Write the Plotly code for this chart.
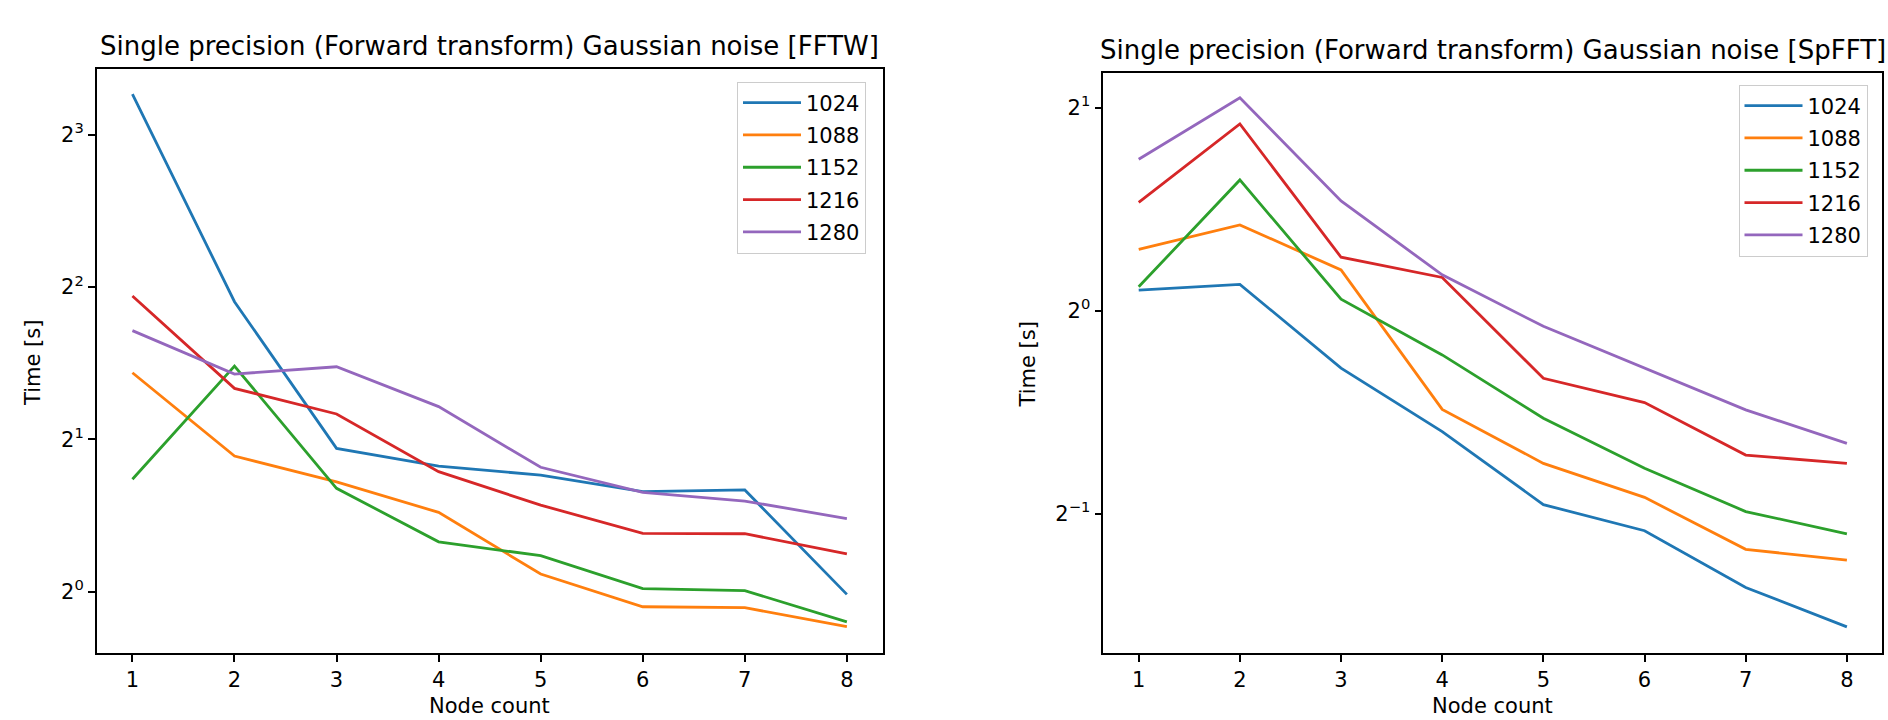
import plotly.graph_objects as go

node_counts = [1, 2, 3, 4, 5, 6, 7, 8]
sizes = ["1024", "1088", "1152", "1216", "1280"]
colors = ["#1f77b4", "#ff7f0e", "#2ca02c", "#d62728", "#9467bd"]

# FFTW times [s]
fftw_1024 = [9.63, 3.742, 1.920, 1.771, 1.700, 1.577, 1.589, 0.988]
fftw_1088 = [2.709, 1.854, 1.649, 1.435, 1.084, 0.934, 0.930, 0.853]
fftw_1152 = [1.668, 2.793, 1.601, 1.255, 1.178, 1.014, 1.005, 0.872]
fftw_1216 = [3.841, 2.523, 2.245, 1.727, 1.483, 1.304, 1.302, 1.188]
fftw_1280 = [3.281, 2.693, 2.784, 2.322, 1.762, 1.572, 1.511, 1.395]

# SpFFT times [s]
spfft_1024 = [1.073, 1.094, 0.822, 0.662, 0.516, 0.472, 0.389, 0.340]
spfft_1088 = [1.233, 1.340, 1.149, 0.714, 0.594, 0.529, 0.443, 0.427]
spfft_1152 = [1.085, 1.562, 1.040, 0.860, 0.693, 0.584, 0.504, 0.467]
spfft_1216 = [1.447, 1.891, 1.200, 1.120, 0.794, 0.731, 0.611, 0.594]
spfft_1280 = [1.676, 2.068, 1.454, 1.130, 0.948, 0.821, 0.713, 0.636]

x_ticks = [1, 2, 3, 4, 5, 6, 7, 8]
left_yticks = [1, 2, 4, 8]
left_yticktext = ["2<sup>0</sup>", "2<sup>1</sup>", "2<sup>2</sup>", "2<sup>3</sup>"]
right_yticks = [0.5, 1, 2]
right_yticktext = ["2<sup>\u22121</sup>", "2<sup>0</sup>", "2<sup>1</sup>"]

title_left = "Single precision (Forward transform) Gaussian noise [FFTW]"
title_right = "Single precision (Forward transform) Gaussian noise [SpFFT]"

FONT = "DejaVu Sans"
W, H = 1888, 720

fig = go.Figure()
fftw = [fftw_1024, fftw_1088, fftw_1152, fftw_1216, fftw_1280]
spfft = [spfft_1024, spfft_1088, spfft_1152, spfft_1216, spfft_1280]
for name, col, ys in zip(sizes, colors, fftw):
    fig.add_trace(go.Scatter(x=node_counts, y=ys, mode="lines", name=name,
                             line=dict(color=col, width=2.8), legendgroup="a" + name,
                             xaxis="x", yaxis="y", legend="legend"))
for name, col, ys in zip(sizes, colors, spfft):
    fig.add_trace(go.Scatter(x=node_counts, y=ys, mode="lines", name=name,
                             line=dict(color=col, width=2.8), legendgroup="b" + name,
                             xaxis="x2", yaxis="y2", legend="legend2"))

axis_common = dict(showline=True, mirror=True, linecolor="black", linewidth=1.5,
                   ticks="outside", ticklen=7, tickwidth=1.5, tickcolor="black",
                   showgrid=False, zeroline=False,
                   tickfont=dict(family=FONT, size=21, color="black"))

legend_common = dict(xanchor="left", yanchor="top", tracegroupgap=2, itemwidth=58,
                     bgcolor="rgba(255,255,255,0.8)", bordercolor="#cccccc", borderwidth=1,
                     font=dict(family=FONT, size=21, color="black"))

fig.update_layout(
    width=W, height=H,
    margin=dict(l=0, r=0, t=0, b=0),
    paper_bgcolor="white", plot_bgcolor="white",
    font=dict(family=FONT, size=21, color="black"),
    xaxis=dict(domain=[96.7 / W, 882.6 / W], range=[0.65, 8.35], tickvals=x_ticks,
               anchor="y", **axis_common),
    yaxis=dict(domain=[1 - 653.3 / H, 1 - 69.3 / H], type="log", range=[-0.1217, 1.0325],
               tickvals=left_yticks, ticktext=left_yticktext, anchor="x", **axis_common),
    xaxis2=dict(domain=[1103.3 / W, 1882.3 / W], range=[0.65, 8.35], tickvals=x_ticks,
                anchor="y2", **axis_common),
    yaxis2=dict(domain=[1 - 653.3 / H, 1 - 73.3 / H], type="log", range=[-0.5076, 0.3517],
                tickvals=right_yticks, ticktext=right_yticktext, anchor="x2", **axis_common),
    legend=dict(x=737 / W, y=1 - 81.5 / H, **legend_common),
    legend2=dict(x=1738.5 / W, y=1 - 84.5 / H, **legend_common),
    showlegend=True,
)

annotations = [
    dict(text=title_left, x=489.6 / W, y=1 - 46 / H, xref="paper", yref="paper",
         xanchor="center", yanchor="middle", showarrow=False,
         font=dict(family=FONT, size=26, color="black")),
    dict(text=title_right, x=1492.8 / W, y=1 - 50 / H, xref="paper", yref="paper",
         xanchor="center", yanchor="middle", showarrow=False,
         font=dict(family=FONT, size=26, color="black")),
    dict(text="Node count", x=489.6 / W, y=1 - 706 / H, xref="paper", yref="paper",
         xanchor="center", yanchor="middle", showarrow=False,
         font=dict(family=FONT, size=21, color="black")),
    dict(text="Node count", x=1492.8 / W, y=1 - 706 / H, xref="paper", yref="paper",
         xanchor="center", yanchor="middle", showarrow=False,
         font=dict(family=FONT, size=21, color="black")),
    dict(text="Time [s]", x=33 / W, y=1 - 363 / H, xref="paper", yref="paper",
         xanchor="center", yanchor="middle", showarrow=False, textangle=-90,
         font=dict(family=FONT, size=21, color="black")),
    dict(text="Time [s]", x=1027.5 / W, y=1 - 365 / H, xref="paper", yref="paper",
         xanchor="center", yanchor="middle", showarrow=False, textangle=-90,
         font=dict(family=FONT, size=21, color="black")),
]
fig.update_layout(annotations=annotations)

fig.write_html("out.html", config={"displayModeBar": False},
               post_script="document.body.style.margin='0';document.body.style.overflow='hidden';")
